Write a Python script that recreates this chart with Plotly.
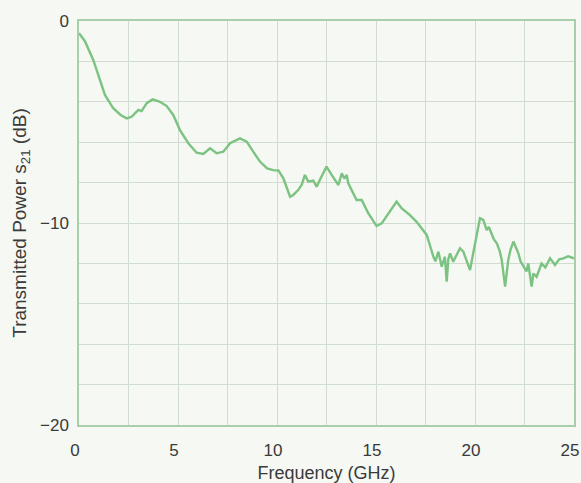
import plotly.graph_objects as go

# Transmission measurement: frequency (GHz) vs transmitted power s21 (dB)
freq_ghz = [
    0.0, 0.3, 0.72, 1.0, 1.31, 1.73, 2.1, 2.41, 2.66, 2.85, 3.0, 3.16, 3.42, 3.72,
    4.09, 4.43, 4.76, 5.1, 5.52, 5.94, 6.28, 6.62, 6.95, 7.29, 7.63, 8.13, 8.47,
    8.8, 9.14, 9.5, 9.81, 10.07, 10.32, 10.66, 10.82, 11.07, 11.25, 11.41, 11.58,
    11.83, 12.0, 12.25, 12.5, 12.76, 12.95, 13.1, 13.27, 13.4, 13.52, 13.6, 14.02,
    14.28, 14.6, 15.03, 15.29, 15.7, 16.04, 16.29, 16.7, 17.05, 17.56, 17.9, 18.0,
    18.15, 18.32, 18.48, 18.57, 18.65, 18.74, 18.9, 19.05, 19.24, 19.41, 19.58,
    19.75, 19.91, 20.1, 20.25, 20.42, 20.59, 20.7, 20.84, 20.95, 21.1, 21.25,
    21.35, 21.52, 21.68, 21.8, 21.94, 22.05, 22.19, 22.3, 22.44, 22.6, 22.69,
    22.86, 22.95, 23.11, 23.25, 23.36, 23.55, 23.79, 24.04, 24.25, 24.46, 24.7,
    25.0,
]
power_db = [
    -0.6, -1.0, -1.93, -2.7, -3.66, -4.32, -4.65, -4.82, -4.74, -4.55, -4.4, -4.46,
    -4.07, -3.88, -4.0, -4.21, -4.65, -5.4, -6.05, -6.52, -6.58, -6.3, -6.55,
    -6.47, -6.05, -5.81, -5.97, -6.47, -6.96, -7.3, -7.38, -7.4, -7.79, -8.7,
    -8.61, -8.37, -8.1, -7.62, -7.95, -7.9, -8.2, -7.7, -7.21, -7.62, -7.9, -8.12,
    -7.54, -7.8, -7.62, -8.04, -8.86, -8.86, -9.5, -10.15, -10.02, -9.4, -8.94,
    -9.27, -9.6, -9.94, -10.59, -11.67, -11.9, -11.42, -12.16, -11.67, -12.9,
    -11.8, -11.5, -11.92, -11.6, -11.25, -11.42, -11.83, -12.33, -11.5, -10.6,
    -9.77, -9.85, -10.35, -10.2, -10.59, -10.8, -11.0, -11.4, -11.83, -13.15,
    -11.83, -11.3, -10.92, -11.2, -11.5, -11.9, -12.16, -12.4, -12.0, -13.15,
    -12.5, -12.66, -12.3, -12.0, -12.2, -11.75, -12.08, -11.8, -11.75, -11.65,
    -11.75,
]

x_ticks = [0, 2.5, 5, 7.5, 10, 12.5, 15, 17.5, 20, 22.5, 25]
x_tick_text = ["0", "", "5", "", "10", "", "15", "", "20", "", "25"]
y_ticks = [0, -2, -4, -6, -8, -10, -12, -14, -16, -18, -20]
y_tick_text = ["0", "", "", "", "", "\u221210", "", "", "", "", "\u221220"]

bg = "#f5f8f3"
grid = "#cfdccf"
frame = "#a9cfaa"
ink = "#3a3a3a"
font_family = "Liberation Sans, Arial, sans-serif"

fig = go.Figure(
    go.Scatter(
        x=freq_ghz,
        y=power_db,
        mode="lines",
        line=dict(color="#7cc382", width=2.4),
        hoverinfo="skip",
    )
)

fig.update_layout(
    width=581,
    height=483,
    margin=dict(l=79, r=7, t=21, b=58, autoexpand=False),
    paper_bgcolor=bg,
    plot_bgcolor=bg,
    showlegend=False,
    font=dict(family=font_family, size=17, color=ink),
)

fig.update_xaxes(
    range=[0, 25],
    tickvals=x_ticks,
    ticktext=x_tick_text,
    tickfont=dict(size=17, color=ink),
    showgrid=True,
    gridcolor=grid,
    gridwidth=1,
    zeroline=False,
    showline=True,
    linecolor=frame,
    linewidth=1.5,
    mirror=True,
    ticks="",
    ticklabelstandoff=9,
    ticklabelshift=-4,
    ticklabeloverflow="allow",
    automargin=False,
    title=dict(text="Frequency (GHz)", font=dict(size=18, color=ink), standoff=12),
)
fig.update_yaxes(
    range=[-20, 0],
    tickvals=y_ticks,
    ticktext=y_tick_text,
    tickfont=dict(size=17, color=ink),
    showgrid=True,
    gridcolor=grid,
    gridwidth=1,
    zeroline=False,
    showline=True,
    linecolor=frame,
    linewidth=1.5,
    mirror=True,
    ticks="",
    ticklabelstandoff=5,
    ticklabeloverflow="allow",
    automargin=False,
    title=dict(
        text="Transmitted Power s<sub>21</sub> (dB)",
        font=dict(size=19, color=ink),
        standoff=8,
    ),
)

fig.write_html("out.html")
